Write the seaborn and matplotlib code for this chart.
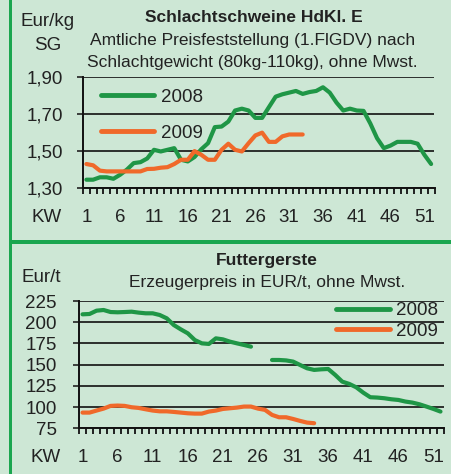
import numpy as np
import pandas as pd
import matplotlib
matplotlib.use("Agg")
import matplotlib.pyplot as plt
import seaborn as sns
from matplotlib.ticker import FixedLocator

# ---------------- data ----------------
weeks = list(range(1, 53))
tick_weeks = [1, 6, 11, 16, 21, 26, 31, 36, 41, 46, 51]

pig_2008 = [1.345, 1.345, 1.358, 1.358, 1.350, 1.372, 1.400, 1.435, 1.440, 1.460,
            1.507, 1.498, 1.507, 1.516, 1.453, 1.444, 1.468, 1.510, 1.543, 1.630,
            1.633, 1.660, 1.720, 1.730, 1.720, 1.680, 1.680, 1.738, 1.795, 1.808,
            1.817, 1.826, 1.810, 1.820, 1.826, 1.846, 1.817, 1.763, 1.720, 1.730,
            1.720, 1.718, 1.650, 1.570, 1.516, 1.530, 1.550, 1.550, 1.550, 1.540,
            1.480, 1.430]
pig_2009 = [1.430, 1.423, 1.394, 1.390, 1.390, 1.390, 1.390, 1.390, 1.390, 1.403,
            1.404, 1.410, 1.413, 1.430, 1.453, 1.453, 1.500, 1.480, 1.453, 1.453,
            1.507, 1.540, 1.507, 1.498, 1.543, 1.585, 1.600, 1.550, 1.550, 1.580,
            1.590, 1.590, 1.590]

barley_2008 = [209.3, 209.7, 213.6, 214.4, 212.0, 211.7, 212.0, 212.4, 211.3, 210.5,
               210.5, 208.5, 204.6, 196.7, 191.6, 186.9, 179.0, 175.1, 174.4, 181.0,
               179.8, 177.1, 175.1, 173.2, 171.2, None, None, 155.5, 155.5, 155.0,
               153.6, 149.6, 145.7, 143.8, 144.5, 144.9, 137.9, 130.0, 127.3, 123.3,
               117.0, 111.6, 111.2, 110.4, 109.2, 108.4, 106.5, 105.3, 103.3, 100.6,
               97.8, 94.7]
barley_2009 = [93.5, 93.5, 95.9, 98.2, 101.4, 101.8, 101.4, 99.8, 99.0, 97.4,
               95.9, 95.0, 95.0, 94.3, 93.5, 92.7, 92.3, 92.3, 94.7, 95.9,
               97.8, 98.6, 99.4, 100.6, 100.6, 98.2, 96.7, 90.8, 88.0, 88.0,
               86.0, 83.7, 81.7, 81.0]

pig_yticks = [1.30, 1.50, 1.70, 1.90]
pig_ylabels = ["1,30", "1,50", "1,70", "1,90"]
barley_yticks = [75, 100, 125, 150, 175, 200, 225]
barley_ylabels = ["75", "100", "125", "150", "175", "200", "225"]
series_names = ["2008", "2009"]


def to_frame(values, name):
    rows = []
    seg = 0
    prev_nan = False
    for w, v in zip(weeks, values):
        if v is None:
            prev_nan = True
            continue
        if prev_nan:
            seg += 1
            prev_nan = False
        rows.append({"KW": w, "value": v, "seg": seg, "Jahr": name})
    return pd.DataFrame(rows)


# ---------------- style ----------------
BG = "#cde7d5"
FRAME = "#1aa64f"
GREEN = "#1f9646"
ORANGE = "#f0692a"
TXT = "#222222"
FS = 12.5
TFS = 13.5
FONT = ["Liberation Sans", "DejaVu Sans"]

sns.set_theme(style="white")
plt.rcParams["font.family"] = FONT
plt.rcParams["text.color"] = TXT
plt.rcParams["axes.labelcolor"] = TXT
plt.rcParams["xtick.color"] = TXT
plt.rcParams["ytick.color"] = TXT

W, H = 452, 474
fig = plt.figure(figsize=(W / 100, H / 100), dpi=100)
fig.patch.set_facecolor(BG)


def px_axes(l, t, r, b):
    return fig.add_axes([l / W, 1 - b / H, (r - l) / W, (b - t) / H])


def style_axes(ax, yticks, ylabels, ypad, xpad):
    ax.set_facecolor("none")
    ax.set_xlim(0.5, 52.5)
    ax.set_ylim(yticks[0], yticks[-1])
    for s in ["top", "right"]:
        ax.spines[s].set_visible(False)
    for s in ["left", "bottom"]:
        ax.spines[s].set_color("#111111")
        ax.spines[s].set_linewidth(1.4)
    ax.set_yticks(yticks)
    ax.set_yticklabels(ylabels)
    ax.yaxis.grid(True, color="#111111", linewidth=1.2)
    ax.xaxis.grid(False)
    ax.set_axisbelow(True)
    ax.tick_params(axis="y", which="major", direction="out", length=4, width=1.2,
                   pad=ypad, labelsize=TFS, left=True)
    ax.set_xticks(tick_weeks)
    ax.set_xticklabels([str(t) for t in tick_weeks])
    ax.xaxis.set_minor_locator(FixedLocator(np.arange(0.5, 53.0, 1.0)))
    ax.tick_params(axis="x", which="major", length=0, pad=xpad, labelsize=TFS)
    ax.tick_params(axis="x", which="minor", direction="out", length=4, width=1.3,
                   bottom=True, color="#111111")
    ax.set_xlabel("")
    ax.set_ylabel("")


# ---------------- top panel ----------------
ax1 = px_axes(83, 77.3, 434.5, 188)
df1 = pd.concat([to_frame(pig_2008, "2008"), to_frame(pig_2009, "2009")])
sns.lineplot(data=df1, x="KW", y="value", hue="Jahr", units="seg", estimator=None,
             palette={"2008": GREEN, "2009": ORANGE}, linewidth=3, ax=ax1, legend=False)
style_axes(ax1, pig_yticks, pig_ylabels, ypad=10.5, xpad=15)
h1 = ax1.get_lines()
leg1 = ax1.legend(h1[:2], series_names, loc="upper left", frameon=False,
                  bbox_to_anchor=(101 / W, 1 - 88.5 / H), bbox_transform=fig.transFigure,
                  borderpad=0, borderaxespad=0, handlelength=2.85, handletextpad=0.35,
                  labelspacing=1.02, fontsize=TFS)
for lh in leg1.get_lines():
    lh.set_linewidth(3.5)

# ---------------- bottom panel ----------------
ax2 = px_axes(79, 301, 444, 428.3)
df2 = pd.concat([to_frame(barley_2008, "2008"), to_frame(barley_2009, "2009")])
sns.lineplot(data=df2, x="KW", y="value", hue="Jahr", units="seg", estimator=None,
             palette={"2008": GREEN, "2009": ORANGE}, linewidth=3, ax=ax2, legend=False)
style_axes(ax2, barley_yticks, barley_ylabels, ypad=12, xpad=15)
lines2 = ax2.get_lines()
leg2 = ax2.legend([lines2[0], lines2[-1]], series_names, loc="upper left", frameon=False,
                  bbox_to_anchor=(336.5 / W, 1 - 302 / H), bbox_transform=fig.transFigure,
                  borderpad=0, borderaxespad=0, handlelength=2.85, handletextpad=0.35,
                  labelspacing=0.2, fontsize=TFS)
for lh in leg2.get_lines():
    lh.set_linewidth(3.5)

# ---------------- texts ----------------
def ftext(x, y, s, **kw):
    fig.text(x / W, 1 - y / H, s, va="center", **kw)

ftext(253.5, 17, "Schlachtschweine HdKl. E", ha="center", fontsize=FS, fontweight="bold")
ftext(253, 40, "Amtliche Preisfeststellung (1.FlGDV) nach", ha="center", fontsize=FS)
ftext(252.5, 63, "Schlachtgewicht (80kg-110kg), ohne Mwst.", ha="center", fontsize=FS)
ftext(48, 21, "Eur/kg", ha="center", fontsize=TFS)
ftext(48, 45, "SG", ha="center", fontsize=TFS)
ftext(47, 217, "KW", ha="center", fontsize=TFS)

ftext(267, 260, "Futtergerste", ha="center", fontsize=FS, fontweight="bold")
ftext(267, 283, "Erzeugerpreis in EUR/t, ohne Mwst.", ha="center", fontsize=FS)
ftext(41, 278, "Eur/t", ha="center", fontsize=TFS)
ftext(46, 458, "KW", ha="center", fontsize=TFS)

# frame bands
fig.add_artist(plt.Rectangle((8.5 / W, 0), 3 / W, 1, transform=fig.transFigure,
                             color=FRAME, lw=0))
fig.add_artist(plt.Rectangle((8.5 / W, 1 - 244 / H), 1, 4 / H, transform=fig.transFigure,
                             color=FRAME, lw=0))

fig.savefig("out.png", dpi=100, facecolor=BG)
